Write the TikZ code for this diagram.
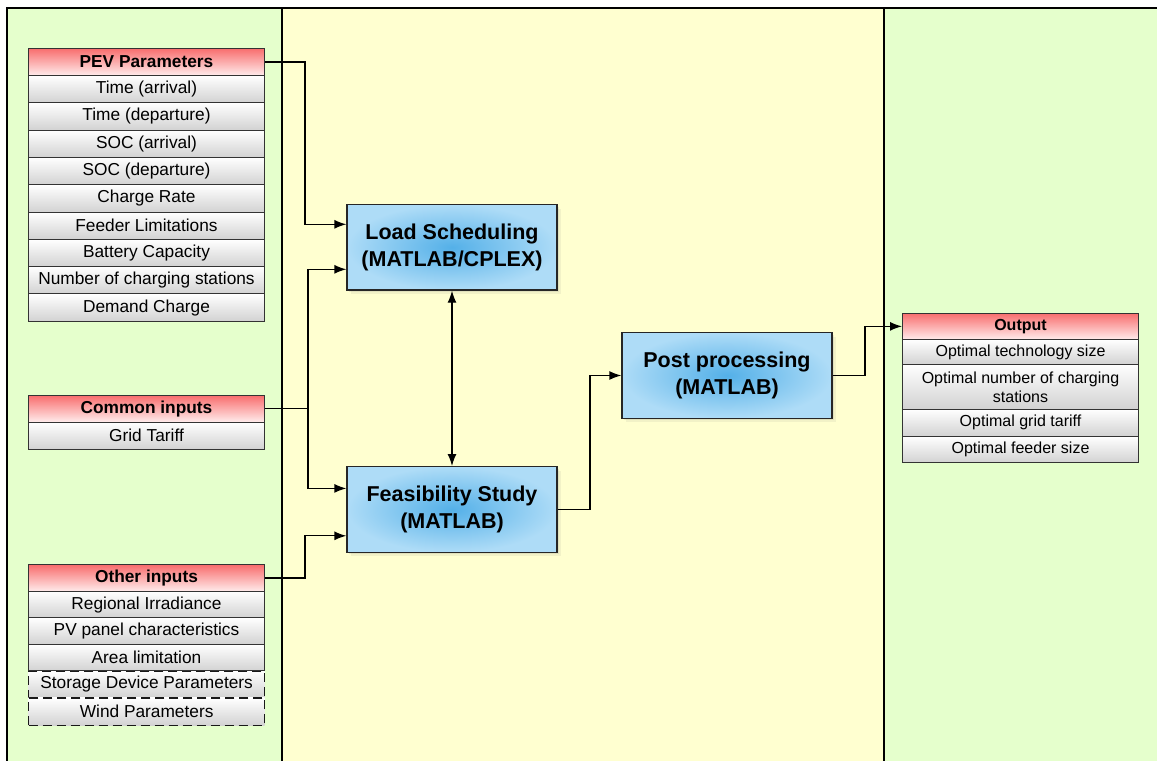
\documentclass[tikz,border=0pt]{standalone}
\usepackage{fontspec}
\setmainfont{Liberation Sans}
\usetikzlibrary{arrows.meta,shadows}

\definecolor{panelgreen}{RGB}{229,255,204}
\definecolor{panelyellow}{RGB}{255,255,208}
\definecolor{hdrtop}{RGB}{248,110,110}
\definecolor{hdrbot}{RGB}{255,236,236}
\definecolor{rowbot}{RGB}{210,210,210}
\definecolor{bluectr}{RGB}{84,176,232}
\definecolor{blueedge}{RGB}{174,220,247}

\tikzset{
  cell/.style={draw=black!80, line width=1pt, top color=white, bottom color=rowbot,
    minimum width=236pt, inner sep=0pt, anchor=north west,
    font=\fontsize{17.3}{20}\selectfont},
  dashcell/.style={cell, draw=black!90, line width=1.3pt, dash pattern=on 9pt off 5pt},
  hdr/.style={cell, top color=hdrtop, bottom color=hdrbot,
    font=\fontsize{17.3}{20}\selectfont\bfseries},
  ocell/.style={cell, font=\fontsize{16}{19}\selectfont, align=center},
  ohdr/.style={hdr, font=\fontsize{16}{19}\selectfont\bfseries},
  proc/.style={draw=black!85, line width=1.3pt, inner color=bluectr, outer color=blueedge,
    minimum width=210pt, minimum height=85.5pt, align=center,
    font=\fontsize{21.5}{27}\selectfont\bfseries,
    drop shadow={shadow xshift=4pt, shadow yshift=-4pt, opacity=0.10},
    drop shadow={shadow xshift=2pt, shadow yshift=-2pt, opacity=0.15}},
  arr/.style={draw=black, line width=1.3pt, -{Latex[length=12pt,width=9pt]}},
  dblarr/.style={draw=black, line width=1.3pt, {Latex[length=12pt,width=9pt]}-{Latex[length=12pt,width=9pt]}},
  divider/.style={draw=black, line width=1.5pt}
}

\begin{document}
\begin{tikzpicture}[x=1pt,y=-1pt]
\useasboundingbox (0,0) rectangle (1157,761);

% background panels
\fill[panelgreen]  (7,8)   rectangle (282,761);
\fill[panelyellow] (282,8) rectangle (884,761);
\fill[panelgreen]  (884,8) rectangle (1157,761);
\draw[divider] (1157,8) -- (7,8) -- (7,761);
\draw[divider] (282,8) -- (282,761);
\draw[divider] (884,8) -- (884,761);

% PEV parameters table
\node[hdr,  minimum height=27pt]   (pevh) at (28,48)    {PEV Parameters};
\node[cell, minimum height=27.3pt] (pev1) at (28,75)    {Time (arrival)};
\node[cell, minimum height=27.3pt] (pev2) at (28,102.3) {Time (departure)};
\node[cell, minimum height=27.3pt] (pev3) at (28,129.6) {SOC (arrival)};
\node[cell, minimum height=27.3pt] (pev4) at (28,156.9) {SOC (departure)};
\node[cell, minimum height=27.3pt] (pev5) at (28,184.2) {Charge Rate};
\node[cell, minimum height=27.3pt] (pev6) at (28,211.5) {Feeder Limitations};
\node[cell, minimum height=27.3pt] (pev7) at (28,238.8) {Battery Capacity};
\node[cell, minimum height=27.3pt] (pev8) at (28,266.1) {Number of charging stations};
\node[cell, minimum height=27.3pt] (pev9) at (28,293.4) {Demand Charge};

% common inputs table
\node[hdr,  minimum height=26.5pt] (comh) at (28,395)   {Common inputs};
\node[cell, minimum height=27.5pt] (com1) at (28,421.5) {Grid Tariff};

% other inputs table (optional entries dashed)
\node[dashcell, minimum height=26.8pt] (oth4) at (28,670.4) {Storage Device Parameters};
\node[dashcell, minimum height=27.6pt] (oth5) at (28,697.2) {Wind Parameters};
\node[hdr,  minimum height=26.4pt] (othh) at (28,564.4) {Other inputs};
\node[cell, minimum height=26.5pt] (oth1) at (28,590.8) {Regional Irradiance};
\node[cell, minimum height=26.5pt] (oth2) at (28,617.3) {PV panel characteristics};
\node[cell, minimum height=26.6pt] (oth3) at (28,643.8) {Area limitation};

% processing blocks
\node[proc] (load) at (452,247.3) {Load Scheduling\\(MATLAB/CPLEX)};
\node[proc] (feas) at (452,509.4) {Feasibility Study\\(MATLAB)};
\node[proc] (post) at (727,375.5) {Post processing\\(MATLAB)};

% output table
\node[ohdr,  minimum height=26.3pt] (outh) at (902,312.7) {Output};
\node[ocell, minimum height=25pt]   (out1) at (902,339)   {Optimal technology size};
\node[ocell, minimum height=44.7pt] (out2) at (902,364)   {Optimal number of charging\\stations};
\node[ocell, minimum height=27pt]   (out3) at (902,408.7) {Optimal grid tariff};
\node[ocell, minimum height=26.6pt] (out4) at (902,435.7) {Optimal feeder size};

% bus columns for the orthogonal connectors
\coordinate (busA) at (305,0);
\coordinate (busB) at (308,0);
\coordinate (busC) at (590,0);
\coordinate (busD) at (865,0);

% connectors
\draw[arr] (pevh.east) -- (pevh.east -| busA) |- ([yshift=23pt]load.west);
\draw[arr] (comh.east) -- (comh.east -| busB) |- ([yshift=-22pt]load.west);
\draw[arr] (comh.east -| busB) |- ([yshift=21pt]feas.west);
\draw[arr] (othh.east) -- (othh.east -| busA) |- ([yshift=-26.4pt]feas.west);
\draw[dblarr] (load.south) -- (feas.north);
\draw[arr] (feas.east) -- (feas.east -| busC) |- (post.west);
\draw[arr] (post.east) -- (post.east -| busD) |- (outh.west);
\end{tikzpicture}
\end{document}
